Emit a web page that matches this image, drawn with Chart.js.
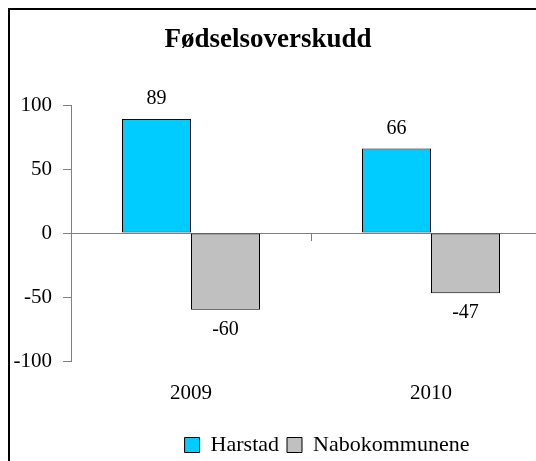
<!DOCTYPE html>
<html>
<head>
<meta charset="utf-8">
<script src="https://cdn.jsdelivr.net/npm/chart.js@4/dist/chart.umd.min.js"></script>
<style>
  body { margin: 0; background: #fff; }
  #wrap { width: 536px; height: 461px; position: relative; overflow: hidden; }
</style>
</head>
<body>
<div id="wrap"><canvas id="birthChart"></canvas></div>
<script>
const categories = ['2009', '2010'];
const harstad = [89, 66];
const nabokommunene = [-60, -47];
const yTicks = [-100, -50, 0, 50, 100];

const serif = "'Liberation Serif', 'Times New Roman', serif";

// frame around the whole chart (its right and bottom edges fall outside the picture)
const framePlugin = {
  id: 'frame',
  afterDraw(chart) {
    const ctx = chart.ctx;
    ctx.save();
    ctx.strokeStyle = '#000';
    ctx.lineWidth = 2;
    ctx.strokeRect(9, 9, chart.width + 40, chart.height + 40);
    ctx.restore();
  }
};

// the plot area runs on past the right edge of the picture,
// and the legend sits right of the title's centre
const widenPlugin = {
  id: 'widen',
  afterLayout(chart) {
    const extra = 23;
    Object.values(chart.scales).forEach(s => {
      if (s.axis === 'x') {
        s.right += extra;
        s.width = s.right - s.left;
        s.configure();
      }
    });
    chart.chartArea.right += extra;
    chart.chartArea.width += extra;

    const shift = 59;
    chart.legend.left += shift;
    chart.legend.right += shift;
  }
};

// value labels above positive bars and below negative ones
const valueLabels = {
  id: 'valueLabels',
  afterDatasetsDraw(chart) {
    const ctx = chart.ctx;
    ctx.save();
    ctx.font = '20px ' + serif;
    ctx.fillStyle = '#000';
    ctx.textAlign = 'center';
    ctx.textBaseline = 'middle';
    chart.data.datasets.forEach((ds, i) => {
      chart.getDatasetMeta(i).data.forEach((bar, j) => {
        const v = ds.data[j];
        const y = v >= 0 ? bar.y - 20 : bar.y + 20;
        ctx.fillText(String(v), bar.x, y);
      });
    });
    ctx.restore();
  }
};

new Chart(document.getElementById('birthChart'), {
  type: 'bar',
  data: {
    labels: categories,
    datasets: [
      {
        label: 'Harstad',
        data: harstad,
        backgroundColor: '#00CCFF',
        borderColor: '#000',
        borderWidth: 1,
        borderSkipped: false
      },
      {
        label: 'Nabokommunene',
        data: nabokommunene,
        backgroundColor: '#C0C0C0',
        borderColor: '#000',
        borderWidth: 1,
        borderSkipped: false
      }
    ]
  },
  options: {
    responsive: true,
    maintainAspectRatio: false,
    animation: false,
    categoryPercentage: 0.575,
    barPercentage: 1,
    layout: { padding: { left: 8, right: 8, top: 0, bottom: -5 } },
    plugins: {
      title: {
        display: true,
        text: 'Fødselsoverskudd',
        color: '#000',
        font: { family: serif, size: 27, weight: 'bold' },
        padding: { top: 24, bottom: 48.6 }
      },
      legend: {
        position: 'bottom',
        align: 'center',
        labels: {
          color: '#000',
          font: { family: serif, size: 22 },
          boxWidth: 15,
          boxHeight: 15,
          padding: 8
        }
      },
      tooltip: { enabled: false }
    },
    scales: {
      x: {
        offset: true,
        grid: { display: false, drawTicks: false },
        border: { display: false },
        ticks: {
          color: '#000',
          font: { family: serif, size: 21 },
          padding: 20
        },
        afterFit(scale) { scale.height = 65; }
      },
      x2: {
        type: 'category',
        axis: 'x',
        position: { y: 0 },
        offset: true,
        ticks: { display: false },
        grid: {
          offset: true,
          drawOnChartArea: false,
          drawTicks: true,
          tickLength: 8,
          color: '#808080'
        },
        border: { display: false }
      },
      y: {
        min: yTicks[0],
        max: yTicks[yTicks.length - 1],
        ticks: {
          stepSize: yTicks[1] - yTicks[0],
          color: '#000',
          font: { family: serif, size: 21 },
          padding: 11
        },
        grid: {
          color: ctx => (ctx.tick && ctx.tick.value === 0 ? '#808080' : 'rgba(0,0,0,0)'),
          tickColor: '#808080',
          tickLength: 8
        },
        border: { display: true, color: '#808080', width: 1 },
        afterFit(scale) { scale.width = 63; }
      }
    }
  },
  plugins: [framePlugin, widenPlugin, valueLabels]
});
</script>
</body>
</html>
